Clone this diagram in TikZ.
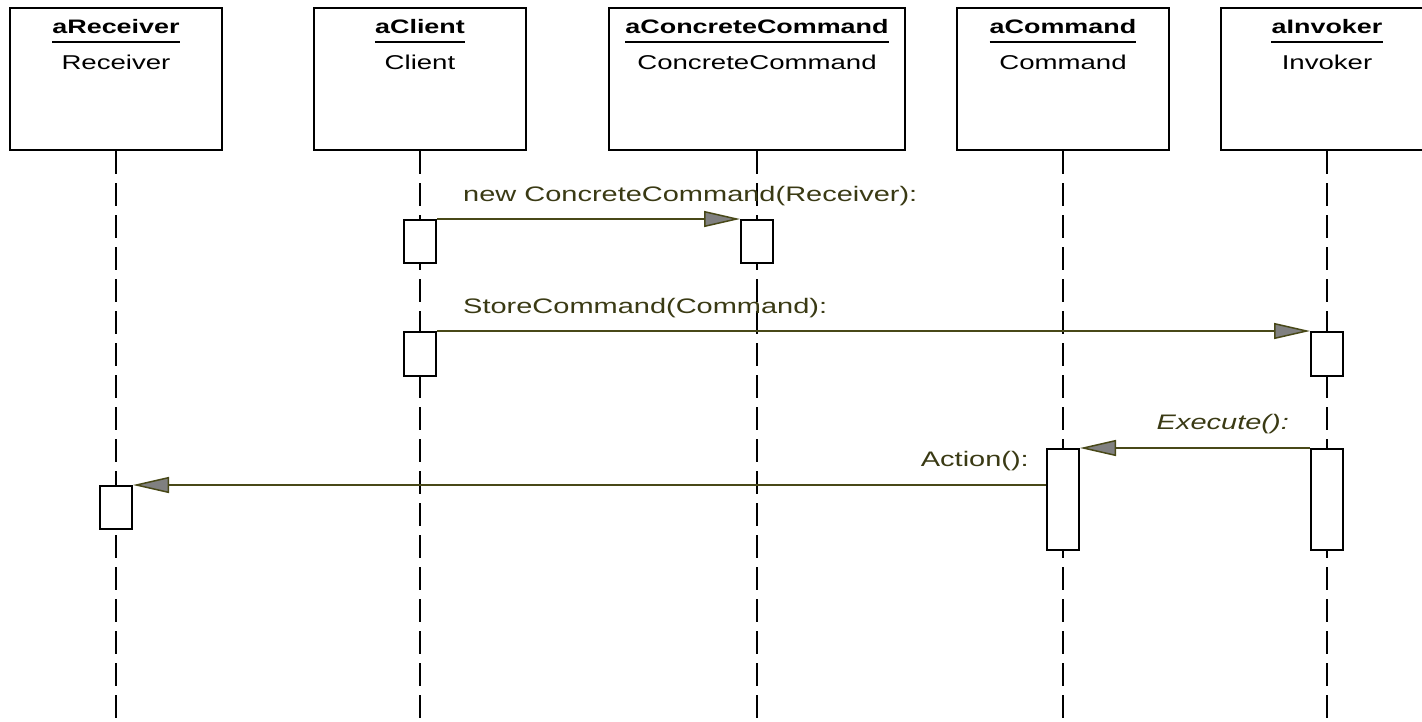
\documentclass[tikz,border=0pt]{standalone}
\usepackage{fontspec}
\setmainfont[FakeStretch=1.38]{Liberation Sans}
\usetikzlibrary{arrows.meta}
\definecolor{msgolive}{RGB}{72,72,24}
\definecolor{tipgrey}{RGB}{128,128,128}
\definecolor{lblolive}{RGB}{58,58,20}

\begin{document}
\begin{tikzpicture}[x=1pt,y=-1pt,
    objbox/.style={draw,line width=2pt,minimum height=142pt,inner sep=0pt},
    objname/.style={font=\fontsize{19.5}{22}\selectfont\bfseries,inner sep=0pt,anchor=base},
    clsname/.style={font=\fontsize{20}{24}\selectfont,inner sep=0pt,anchor=base},
    uline/.style={line width=2pt},
    lifeline/.style={line width=2pt,dash pattern=on 23pt off 9pt},
    actbox/.style={draw,fill=white,line width=2pt,minimum width=32pt,inner sep=0pt},
    msg/.style={msgolive,line width=1.5pt,
      -{Triangle[length=36pt,width=16pt,fill=tipgrey,line width=1.5pt]}},
    msglabel/.style={lblolive,font=\fontsize{21}{24}\selectfont,inner sep=0pt}]
    \useasboundingbox (0,0) rectangle (1422,721);
    \clip (0,0) rectangle (1422,721);
    % Object boxes with lifelines
    \foreach \nm/\xx/\bw/\oname/\cname in {rcv/116/212/aReceiver/Receiver,
        cli/420/212/aClient/Client,
        ccmd/757/296/aConcreteCommand/ConcreteCommand,
        cmd/1063/212/aCommand/Command,
        inv/1327/212/aInvoker/Invoker}{
      \node[objbox,minimum width=\bw] (\nm) at (\xx,79) {};
      \node[objname] (\nm-name) at (\xx,33) {\oname};
      \draw[uline] ([yshift=-9pt]\nm-name.base west)
        -- ([yshift=-9pt]\nm-name.base east);
      \node[clsname] (\nm-cls) at (\xx,69) {\cname};
      \draw[lifeline] (\nm.south) -- (\xx,721);
    }
    % Activation boxes
    \node[actbox,minimum height=43] (cliact1) at (420,241.5) {};
    \node[actbox,minimum height=43] (ccmdact) at (757,241.5) {};
    \node[actbox,minimum height=44] (cliact2) at (420,354) {};
    \node[actbox,minimum height=44] (invact1) at (1327,354) {};
    \node[actbox,minimum height=101] (cmdact) at (1063,499.5) {};
    \node[actbox,minimum height=101] (invact2) at (1327,499.5) {};
    \node[actbox,minimum height=43] (rcvact) at (116,507.5) {};
    % Client creates the concrete command
    \draw[msg] (cliact1.north east) -- (ccmdact.north west);
    \node[msglabel,anchor=base west] (lblnew)
      at ([xshift=26pt,yshift=18pt]cliact1.north east)
      {new ConcreteCommand(Receiver):};
    % Client hands the command to the invoker
    \draw[msg] (cliact2.north east) -- (invact1.north west);
    \node[msglabel,anchor=base west] (lblstore)
      at ([xshift=26pt,yshift=18pt]cliact2.north east)
      {StoreCommand(Command):};
    % Invoker executes the command
    \draw[msg] (invact2.north west) -- (cmdact.north east);
    \node[msglabel,anchor=base east,font=\fontsize{21}{24}\selectfont\itshape] (lblexec)
      at ([xshift=-21pt,yshift=19pt]invact2.north west)
      {Execute():};
    % Command calls the receiver
    \draw[msg] (cmdact.west |- rcvact.north) -- (rcvact.north east);
    \node[msglabel,anchor=base east] (lblaction)
      at ([xshift=-17pt,yshift=19pt]cmdact.west |- rcvact.north)
      {Action():};
  \end{tikzpicture}
\end{document}
